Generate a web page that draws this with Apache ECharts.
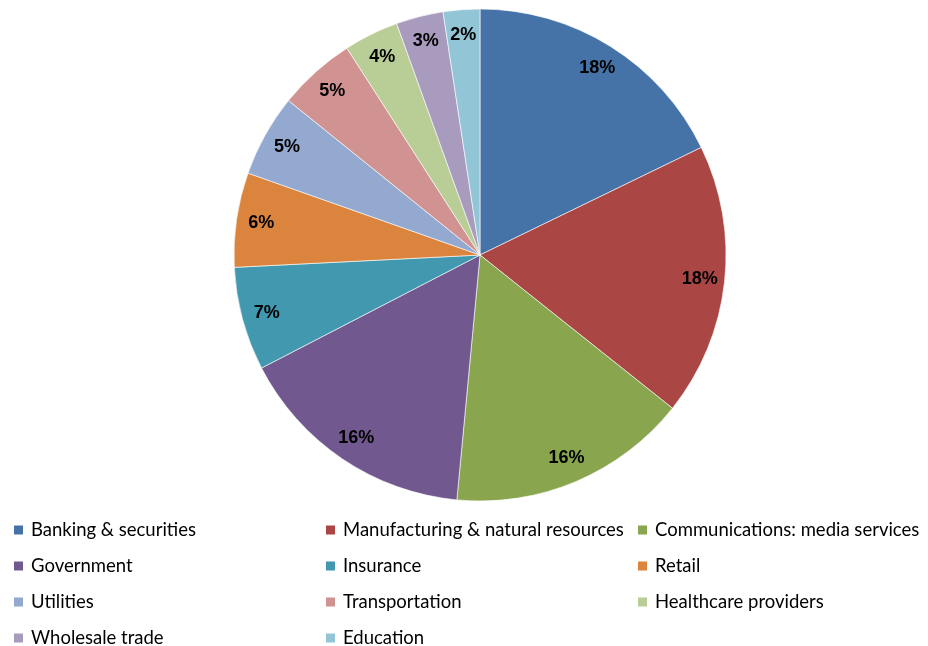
<!DOCTYPE html>
<html>
<head>
<meta charset="utf-8">
<script src="https://cdn.jsdelivr.net/npm/echarts@6/dist/echarts.min.js"></script>
<style>
  html, body { margin: 0; padding: 0; background: #fff; }
  #main { width: 928px; height: 646px; }
</style>
</head>
<body>
<div id="main"></div>
<script>
// sectors, in clockwise order from 12 o'clock
var sectors = ['Banking & securities', 'Manufacturing & natural resources', 'Communications: media services',
  'Government', 'Insurance', 'Retail', 'Utilities', 'Transportation', 'Healthcare providers',
  'Wholesale trade', 'Education'];
var shares = [17.8, 17.9, 15.8, 15.9, 6.8, 6.2, 5.4, 5.1, 3.6, 3.1, 2.4];
var colors = ['#4572A7', '#AA4643', '#89A54E', '#71588F', '#4198AF', '#DB843D',
  '#93A9CF', '#D19392', '#B9CD96', '#A99BBD', '#92C5D6'];

// legend columns (Excel lays them out row by row, 3 across)
var col1 = [sectors[0], sectors[3], sectors[6], sectors[9]];
var col2 = [sectors[1], sectors[4], sectors[7], sectors[10]];
var col3 = [sectors[2], sectors[5], sectors[8]];

var data = sectors.map(function (n, i) {
  return { name: n, value: shares[i] };
});

var chart = echarts.init(document.getElementById('main'));

function legendCol(left, items) {
  return {
    orient: 'vertical',
    left: left,
    top: 520,
    height: 160,
    padding: 0,
    data: items,
    icon: 'rect',
    itemWidth: 11,
    itemHeight: 11,
    itemGap: 16,
    selectedMode: false,
    textStyle: {
      fontFamily: 'Lato',
      fontSize: 18.5,
      color: '#000',
      lineHeight: 20,
      padding: [0, 0, 0, 2]
    }
  };
}

chart.setOption({
  animation: false,
  color: colors,
  legend: [legendCol(12, col1), legendCol(324, col2), legendCol(636, col3)],
  series: [
    {
      type: 'pie',
      center: [480, 255],
      radius: 246,
      startAngle: 90,
      silent: true,
      label: { show: false },
      labelLine: { show: false },
      itemStyle: { borderColor: '#fff', borderWidth: 0.6 },
      data: data
    },
    {
      // transparent ring used only to put the percent labels near the rim
      type: 'pie',
      center: [480, 255],
      radius: [190, 246],
      startAngle: 90,
      silent: true,
      itemStyle: { color: 'rgba(0,0,0,0)' },
      labelLine: { show: false },
      label: {
        position: 'inside',
        fontFamily: 'Liberation Sans',
        fontWeight: 'bold',
        fontSize: 18,
        color: '#000',
        formatter: function (p) { return Math.round(p.percent) + '%'; }
      },
      data: data
    }
  ]
});
</script>
</body>
</html>
